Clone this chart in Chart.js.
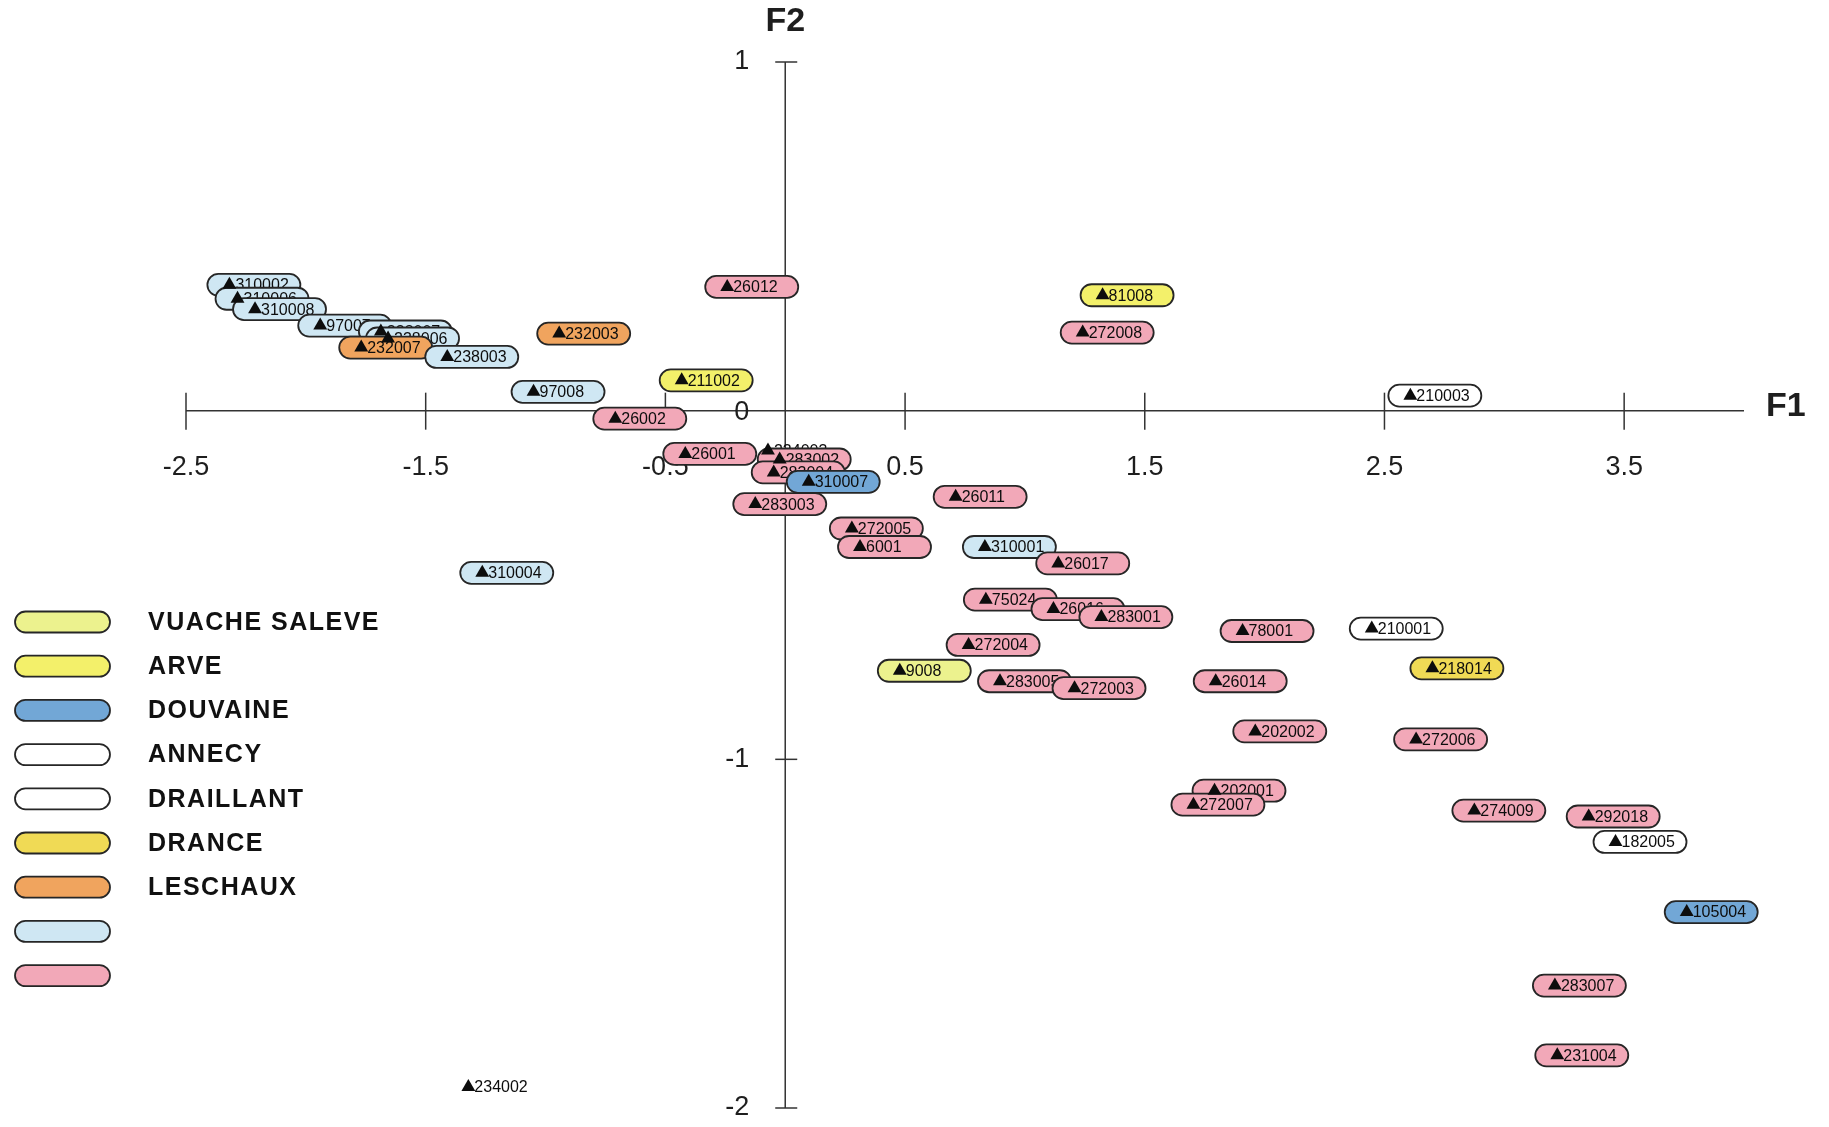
<!DOCTYPE html>
<html>
<head>
<meta charset="utf-8">
<script src="https://cdn.jsdelivr.net/npm/chart.js@4.4.1/dist/chart.umd.min.js"></script>
<style>
  html, body { margin: 0; padding: 0; background: #ffffff; }
  canvas { display: block; }
</style>
</head>
<body>
<canvas id="chart" width="1829" height="1127"></canvas>
<script>
// Groups shown in the key (the last two have no caption)
const groupNames = ['VUACHE SALEVE', 'ARVE', 'DOUVAINE', 'ANNECY', 'DRAILLANT', 'DRANCE', 'LESCHAUX', '', ''];
const groupFills = ['#ecf28e', '#f3f06a', '#72a7d6', '#ffffff', '#ffffff', '#f0da55', '#f0a45e', '#cfe7f3', '#f2a8b8'];

// Sample identifiers, factor scores and group index (-1 = no frame)
const sampleIds = [
  '310002', '310006', '310008', '97007', '238007', '238006', '232007', '238003', '97008', '232003',
  '26012', '211002', '26002', '26001', '234003', '283002', '283004', '310007', '283003', '26011',
  '272005', '6001', '310001', '26017', '75024', '26016', '283001', '272004', '9008', '283005',
  '272003', '81008', '272008', '210003', '78001', '210001', '218014', '26014', '202002', '272006',
  '202001', '272007', '274009', '292018', '182005', '105004', '283007', '231004', '310004', '234002'
];
const f1Values = [
  -2.319, -2.285, -2.212, -1.940, -1.687, -1.657, -1.769, -1.410, -1.050, -0.943,
  -0.242, -0.432, -0.709, -0.417, -0.072, -0.023, -0.048, 0.098, -0.125, 0.711,
  0.278, 0.312, 0.833, 1.139, 0.837, 1.119, 1.319, 0.765, 0.478, 0.896,
  1.207, 1.324, 1.241, 2.608, 1.908, 2.447, 2.700, 1.796, 1.961, 2.632,
  1.791, 1.703, 2.875, 3.352, 3.464, 3.761, 3.211, 3.221, -1.264, -1.322
];
const f2Values = [
  0.361, 0.321, 0.291, 0.244, 0.227, 0.207, 0.181, 0.154, 0.054, 0.221,
  0.355, 0.087, -0.023, -0.124, -0.114, -0.140, -0.177, -0.204, -0.268, -0.247,
  -0.338, -0.391, -0.391, -0.438, -0.542, -0.569, -0.592, -0.672, -0.746, -0.776,
  -0.796, 0.331, 0.224, 0.043, -0.632, -0.625, -0.739, -0.776, -0.920, -0.943,
  -1.090, -1.130, -1.147, -1.164, -1.237, -1.438, -1.649, -1.849, -0.465, -1.940
];
const sampleGroups = [
  7, 7, 7, 7, 7, 7, 6, 7, 7, 6,
  8, 1, 8, 8, -1, 8, 8, 2, 8, 8,
  8, 8, 7, 8, 8, 8, 8, 8, 0, 8,
  8, 1, 8, 3, 8, 3, 5, 8, 8, 8,
  8, 8, 8, 8, 4, 2, 8, 8, 7, -1
];

// Axis ticks
const xTickValues = [-2.5, -1.5, -0.5, 0.5, 1.5, 2.5, 3.5];
const yTickValues = [1, 0, -1, -2];
const xAxisTitle = 'F1';
const yAxisTitle = 'F2';

const INK = '#1e1e1e';

function pill(ctx, x, y, w, h, fill) {
  ctx.beginPath();
  ctx.roundRect(x, y, w, h, h / 2);
  ctx.fillStyle = fill;
  ctx.fill();
  ctx.lineWidth = 1.8;
  ctx.strokeStyle = '#262626';
  ctx.stroke();
}

const factorPlanePlugin = {
  id: 'factorPlane',
  beforeDatasetsDraw(chart) {
    const ctx = chart.ctx;
    const xs = chart.scales.x, ys = chart.scales.y;
    const x0 = xs.getPixelForValue(0), y0 = ys.getPixelForValue(0);
    ctx.save();

    // axis lines crossing at the origin
    ctx.strokeStyle = '#333';
    ctx.lineWidth = 1.5;
    ctx.beginPath();
    ctx.moveTo(xs.getPixelForValue(xs.min), y0);
    ctx.lineTo(xs.getPixelForValue(xs.max), y0);
    ctx.moveTo(x0, ys.getPixelForValue(ys.max));
    ctx.lineTo(x0, ys.getPixelForValue(ys.min));
    ctx.stroke();

    // horizontal ticks and labels
    ctx.font = '27px "Liberation Sans", Arial, sans-serif';
    ctx.fillStyle = INK;
    ctx.textAlign = 'center';
    ctx.textBaseline = 'middle';
    xTickValues.forEach(v => {
      const px = xs.getPixelForValue(v);
      ctx.beginPath();
      ctx.moveTo(px, y0 - 18);
      ctx.lineTo(px, y0 + 19);
      ctx.stroke();
      ctx.fillText(String(v), px, y0 + 57);
    });

    // vertical ticks and labels
    ctx.textAlign = 'right';
    yTickValues.forEach(v => {
      const py = ys.getPixelForValue(v);
      if (v !== 0) {
        ctx.beginPath();
        ctx.moveTo(x0 - 10, py);
        ctx.lineTo(x0 + 12, py);
        ctx.stroke();
      }
      ctx.fillText(String(v), x0 - 36, py + (v === 0 ? 2 : 0));
    });

    // axis titles
    ctx.font = 'bold 34px "Liberation Sans", Arial, sans-serif';
    ctx.textAlign = 'center';
    ctx.fillText(yAxisTitle, x0, 22);
    ctx.textAlign = 'left';
    ctx.fillText(xAxisTitle, xs.getPixelForValue(xs.max) + 22, y0 - 4);

    // framed sample labels
    ctx.font = '16px "Liberation Sans", Arial, sans-serif';
    ctx.textBaseline = 'middle';
    sampleIds.forEach((id, i) => {
      const px = xs.getPixelForValue(f1Values[i]);
      const py = ys.getPixelForValue(f2Values[i]);
      const g = sampleGroups[i];
      if (g >= 0) pill(ctx, px - 22, py - 11, 93, 22, groupFills[g]);
      ctx.fillStyle = '#0d0d0d';
      ctx.textAlign = 'left';
      ctx.fillText(id, px + 6, py + 1);
    });

    // key
    ctx.font = 'bold 25px "Liberation Sans", Arial, sans-serif';
    ctx.letterSpacing = '1.5px';
    groupNames.forEach((name, i) => {
      const cy = 622 + i * 44.2;
      pill(ctx, 15, cy - 10.5, 95, 21, groupFills[i]);
      if (name) {
        ctx.fillStyle = '#111';
        ctx.textAlign = 'left';
        ctx.fillText(name, 148, cy + 1);
      }
    });
    ctx.letterSpacing = '0px';
    ctx.restore();
  }
};

new Chart(document.getElementById('chart'), {
  type: 'scatter',
  data: {
    datasets: [{
      data: sampleIds.map((id, i) => ({ x: f1Values[i], y: f2Values[i] })),
      pointStyle: 'triangle',
      pointRadius: 8,
      backgroundColor: '#0d0d0d',
      borderColor: '#0d0d0d',
      borderWidth: 0,
      clip: false
    }]
  },
  options: {
    responsive: false,
    animation: false,
    devicePixelRatio: 1,
    layout: { padding: { left: 186, right: 85, top: 62, bottom: 19 } },
    scales: {
      x: { type: 'linear', min: -2.5, max: 4.0, display: false },
      y: { type: 'linear', min: -2, max: 1, display: false }
    },
    plugins: {
      legend: { display: false },
      tooltip: { enabled: false }
    }
  },
  plugins: [factorPlanePlugin]
});
</script>
</body>
</html>
